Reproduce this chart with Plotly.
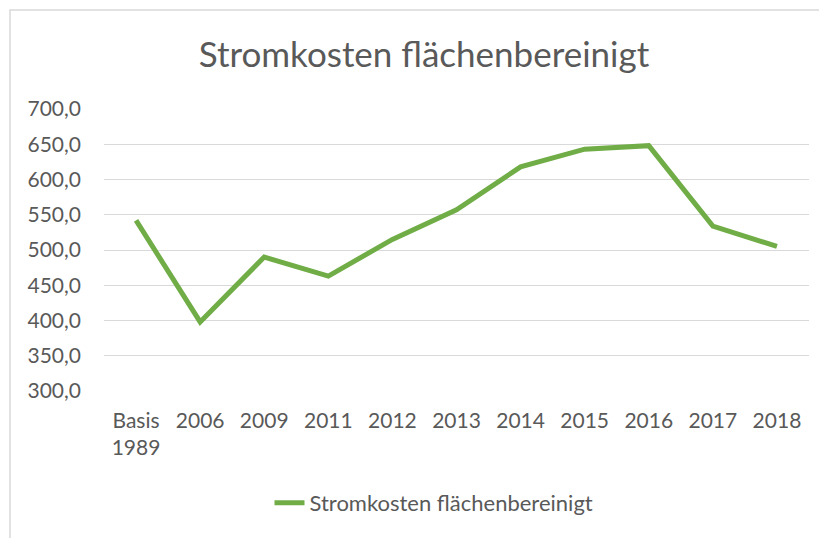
import plotly.graph_objects as go

# categories and values
kategorien = ["Basis<br>1989", "2006", "2009", "2011", "2012", "2013",
              "2014", "2015", "2016", "2017", "2018"]
stromkosten = [542, 398, 490, 463, 515, 557, 618, 643, 648, 534, 505]
serie_name = "Stromkosten flächenbereinigt"
titel = "Stromkosten flächenbereinigt"

# page body has an 8px margin, so the figure is drawn 8px smaller
W, H = 819, 530
L, R, T, B = 96, 18, 101, 147
pw, ph = W - L - R, H - T - B

grau = "#595959"
gruen = "#70AD47"

fig = go.Figure()
fig.add_trace(go.Scatter(x=kategorien, y=stromkosten, name=serie_name,
                         mode="lines", line=dict(color=gruen, width=5)))

fig.update_layout(
    width=W, height=H,
    margin=dict(l=L, r=R, t=T, b=B, autoexpand=False),
    paper_bgcolor="white", plot_bgcolor="white",
    font=dict(family="Lato, Open Sans, sans-serif", color=grau, size=21),
    title=dict(text=titel, x=416 / W, xanchor="center", xref="container",
               y=1 - 47 / H, yanchor="middle",
               font=dict(size=35, color=grau)),
    showlegend=True,
    legend=dict(orientation="h", x=426 / W, xanchor="center", xref="container",
                y=(H - B - 495) / ph, yanchor="middle",
                font=dict(size=22, color=grau)),
)
fig.update_xaxes(type="category", range=[-0.5, len(kategorien) - 0.5],
                 showgrid=False, showline=False, ticks="",
                 ticklabelstandoff=15,
                 tickfont=dict(size=21, color=grau), tickangle=0)
fig.update_yaxes(range=[300, 700], dtick=50, tickformat=".1f",
                 showgrid=True, gridcolor="#D9D9D9",
                 gridwidth=1.2, zeroline=False, showline=False, ticks="",
                 ticklabelstandoff=22, tickfont=dict(size=21, color=grau))
fig.update_layout(separators=", ")

# light frame of the chart area (left and top edge visible)
fig.add_shape(type="rect", xref="paper", yref="paper",
              x0=(2 - L) / pw, x1=(W + 20 - L) / pw,
              y0=-(B + 20) / ph, y1=(H - B - 2) / ph,
              line=dict(color="#D9D9D9", width=1.5), fillcolor="rgba(0,0,0,0)",
              layer="below")

fig.write_html("out.html")
